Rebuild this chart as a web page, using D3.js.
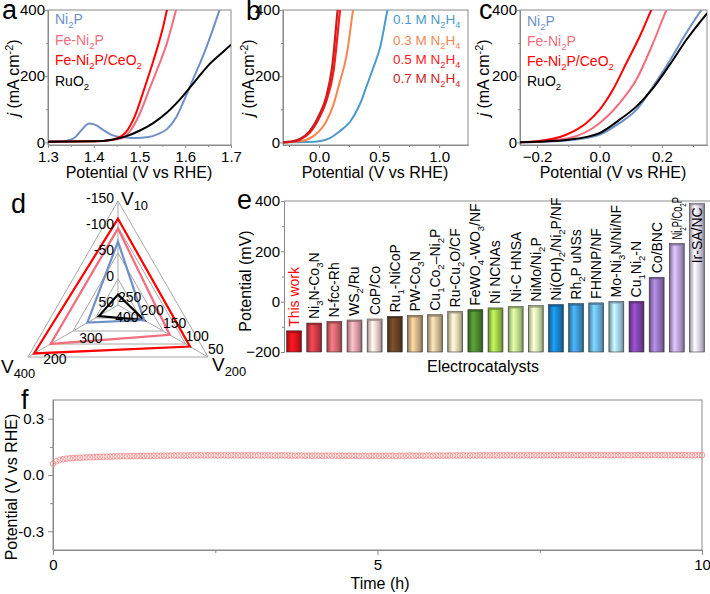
<!DOCTYPE html>
<html><head><meta charset="utf-8">
<script src="https://cdn.jsdelivr.net/npm/d3@7"></script>
<style>body{margin:0;background:#fff}svg{display:block;font-family:"Liberation Sans",Arial,sans-serif}</style>
</head><body><svg id="chart" width="710" height="594"></svg>
<script>
// ---------------- DATA ----------------
// Panel a (OER-like LSV, potential V vs RHE, j mA cm-2)
const aNi2P   = [[1.30,3],[1.34,5],[1.35,8],[1.36,16],[1.375,40],[1.39,57],[1.405,52],[1.42,38],[1.44,22],[1.46,16],[1.49,13],[1.52,16],[1.54,25],[1.56,40],[1.58,75],[1.60,135],[1.62,200],[1.64,265],[1.66,340],[1.675,400],[1.69,460]];
const aFeNi2P = [[1.30,2],[1.40,3],[1.44,7],[1.46,12],[1.47,20],[1.48,35],[1.50,85],[1.52,155],[1.54,225],[1.56,300],[1.58,400],[1.59,450]];
const aFeNiCe = [[1.30,2],[1.40,3],[1.43,6],[1.45,12],[1.47,30],[1.49,80],[1.51,160],[1.53,245],[1.55,340],[1.56,400],[1.57,460]];
const aRuO2   = [[1.30,2],[1.40,3],[1.44,8],[1.47,18],[1.50,35],[1.53,58],[1.56,90],[1.59,132],[1.62,182],[1.65,232],[1.68,270],[1.70,295]];
// Panel b (HzOR, different N2H4 concentrations)
const b01 = [[-0.30,0],[-0.10,1],[0.00,3],[0.09,13],[0.17,33],[0.26,63],[0.31,93],[0.35,124],[0.39,164],[0.45,224],[0.51,289],[0.57,400],[0.59,430]];
const b03 = [[-0.30,0],[-0.16,3],[-0.05,18],[0.00,33],[0.06,63],[0.12,114],[0.17,179],[0.23,264],[0.283,400],[0.30,440]];
const b05 = [[-0.30,0],[-0.24,1],[-0.16,8],[-0.08,28],[0.00,73],[0.06,124],[0.12,214],[0.175,400],[0.19,450]];
const b07 = [[-0.30,0],[-0.24,2],[-0.16,10],[-0.08,33],[0.00,82],[0.06,138],[0.11,230],[0.155,400],[0.17,450]];
// Panel c (HzOR comparison)
const cNi2P   = [[-0.255,0],[-0.2,1],[-0.1,6],[0.0,23],[0.064,58],[0.118,98],[0.172,169],[0.225,246],[0.279,331],[0.327,400],[0.35,430]];
const cFeNi2P = [[-0.255,0],[-0.2,2],[-0.097,13],[0.0,58],[0.064,118],[0.118,189],[0.172,300],[0.215,400],[0.23,430]];
const cFeNiCe = [[-0.255,0],[-0.2,3],[-0.107,23],[-0.043,58],[0.0,98],[0.043,159],[0.086,239],[0.129,320],[0.166,400],[0.18,430]];
const cRuO2   = [[-0.255,0],[-0.2,2],[-0.1,8],[0.0,28],[0.064,68],[0.118,108],[0.172,164],[0.225,234],[0.279,310],[0.345,390]];
const legendABC = ["Ni_2P","Fe-Ni_2P","Fe-Ni_2P/CeO_2","RuO_2"];
const legendB = ["0.1 M N_2H_4","0.3 M N_2H_4","0.5 M N_2H_4","0.7 M N_2H_4"];
// Panel d (radar: V10, V200, V400 in mV)
const dAxisNames = ["V_{10}","V_{200}","V_{400}"];
const dTicksV10 = [-150,-100,-50,0,50];
const dTicksV200 = [250,200,150,100,50];
const dTicksV400 = [400,300,200];
const dFeNiCe = [-116,90,217];
const dFeNi2P = [-97,135,263];
const dNi2P   = [-72,192,365];
const dRuO2   = [30,192,397];
// Panel e (comparison bar chart, potential in mV)
const eCats = ["This work","Ni_3N-Co_3N","N-fcc-Rh","WS_2/Ru","CoP/Co","Ru_1-NiCoP","PW-Co_3N","Cu_1Co_2\u2013Ni_2P","Ru-Cu_2O/CF","FeWO_4-WO_3/NF","Ni NCNAs","Ni-C HNSA","NiMo/Ni_2P","Ni(OH)_2/Ni_2P/NF","Rh_2P uNSs","FHNNP/NF","Mo-Ni_3N/Ni/NF","Cu_1Ni_2-N","Co/BNC","Ni_2P/Co_2P","Ir-SA/NC"];
const eVals = [-116,-85,-79,-73,-69,-59,-55,-52,-39,-32,-25,-19,-16,-12,-8,-5,1,1,97,231,391];
const eColors = ["#e3131b","#d23c48","#d96870","#e3a2ae","#eed3cf","#6a4526","#d9b889","#d6c49c","#e5dbb9","#4f8b2f","#a2d24c","#c2e18e","#d8e9b3","#1a86d1","#3f9bd7","#6db7e6","#a8d5ec","#8445b1","#9b79c5","#bda6dc","#ded6ea"];
const eTicks = [-200,0,200,400];
// Panel f (chronopotentiometry, V vs RHE over 10 h)
const fVals = [0.061,0.074,0.080,0.084,0.087,0.089,0.090,0.091,0.092,0.093,
0.094,0.095,0.095,0.096,0.097,0.097,0.098,0.098,0.099,0.099,
0.100,0.100,0.100,0.101,0.101,0.101,0.102,0.102,0.102,0.102,
0.103,0.103,0.103,0.103,0.103,0.104,0.104,0.104,0.104,0.104,
0.104,0.105,0.104,0.105,0.105,0.104,0.105,0.105,0.105,0.104,
0.105,0.105,0.104,0.105,0.105,0.105,0.104,0.105,0.105,0.104,
0.104,0.105,0.104,0.104,0.105,0.104,0.104,0.104,0.105,0.104,
0.104,0.104,0.103,0.104,0.104,0.103,0.104,0.103,0.104,0.103,
0.103,0.103,0.104,0.103,0.103,0.103,0.103,0.102,0.103,0.103,
0.103,0.102,0.103,0.103,0.102,0.103,0.103,0.102,0.103,0.103,
0.103,0.103,0.102,0.103,0.103,0.103,0.104,0.103,0.103,0.104,
0.103,0.104,0.104,0.103,0.104,0.104,0.104,0.103,0.104,0.104,
0.104,0.104,0.105,0.104,0.104,0.105,0.104,0.105,0.105,0.104,
0.105,0.105,0.104,0.105,0.105,0.105,0.105,0.104,0.105,0.105,
0.105,0.106,0.105,0.105,0.105,0.106,0.105,0.105,0.106,0.105,
0.105,0.106,0.106,0.105,0.106,0.105,0.106,0.106,0.105,0.106,
0.106,0.105,0.106,0.106,0.106,0.105,0.106,0.106,0.106,0.105,
0.106,0.106,0.105,0.106,0.106,0.106,0.106,0.105,0.106,0.106,
0.106,0.106,0.106,0.105,0.106,0.106,0.106,0.106,0.106,0.105,
0.106,0.106,0.106,0.106];
const fTimeMax = 10;

// ---------------- HELPERS ----------------
const svg = d3.select('#chart');
const AX = '#8a8a8a';
const defs = svg.append('defs');

function rich(t, str, fs) {
  const segs = []; let buf = '';
  for (let i = 0; i < str.length; i++) {
    const ch = str[i];
    if (ch === '_' || ch === '^') {
      if (buf) { segs.push({t: buf, m: 'n'}); buf = ''; }
      const m = ch === '_' ? 'sub' : 'sup';
      if (str[i+1] === '{') { const j = str.indexOf('}', i); segs.push({t: str.slice(i+2, j), m}); i = j; }
      else { segs.push({t: str[i+1], m}); i++; }
    } else if (ch === '|') {
      if (buf) { segs.push({t: buf, m: 'n'}); buf = ''; }
      const j = str.indexOf('|', i+1); segs.push({t: str.slice(i+1, j), m: 'i'}); i = j;
    } else buf += ch;
  }
  if (buf) segs.push({t: buf, m: 'n'});
  let shift = 0;
  segs.forEach(s => {
    const target = s.m === 'sub' ? fs*0.28 : s.m === 'sup' ? -fs*0.4 : 0;
    const small = s.m === 'sub' || s.m === 'sup';
    const ts = t.append('tspan').text(s.t).attr('font-size', small ? fs*0.68 : fs);
    if (target !== shift) ts.attr('dy', target - shift);
    if (s.m === 'i') ts.attr('font-style', 'italic');
    shift = target;
  });
  return t;
}
function styleAxis(g, fs) {
  g.select('.domain').attr('stroke', AX);
  g.selectAll('.tick line').attr('stroke', AX);
  g.selectAll('.tick text').attr('font-size', fs).attr('fill', '#000').attr('font-family', '"Liberation Sans", Arial, sans-serif');
}
function letter(ch, x, y) {
  svg.append('text').attr('x', x).attr('y', y).attr('font-size', 27).attr('fill', '#000').text(ch);
}

// ---------------- LSV PANELS (a,b,c) ----------------
function lsvPanel(id, xr, xd, xt, xminor, fmt, series, legend, legX, legYs, legFs, yTitleX, xTitleX) {
  const x = d3.scaleLinear().domain(xd).range(xr);
  const y = d3.scaleLinear().domain([-8, 400]).range([145, 10]);
  const g = svg.append('g');
  defs.append('clipPath').attr('id', 'clip' + id).append('rect')
    .attr('x', xr[0]).attr('y', 10).attr('width', xr[1]-xr[0]).attr('height', 135);
  g.append('rect').attr('x', xr[0]).attr('y', 10).attr('width', xr[1]-xr[0]).attr('height', 135)
    .attr('fill', 'none').attr('stroke', AX).attr('stroke-width', 1);
  const ya = g.append('g').attr('transform', `translate(${xr[0]},0)`)
    .call(d3.axisLeft(y).tickValues([0,200,400]).tickSize(3).tickPadding(0).tickSizeOuter(0));
  styleAxis(ya, 15);
  const ym = g.append('g').attr('transform', `translate(${xr[0]},0)`)
    .call(d3.axisLeft(y).tickValues([100,300]).tickSize(2).tickFormat('').tickSizeOuter(0));
  styleAxis(ym, 15);
  const xa = g.append('g').attr('transform', 'translate(0,145)')
    .call(d3.axisBottom(x).tickValues(xt).tickFormat(fmt).tickSize(3).tickPadding(3).tickSizeOuter(0));
  styleAxis(xa, 15);
  const xm = g.append('g').attr('transform', 'translate(0,145)')
    .call(d3.axisBottom(x).tickValues(xminor).tickFormat('').tickSize(2).tickSizeOuter(0));
  styleAxis(xm, 15);
  const line = d3.line().x(d => x(d[0])).y(d => y(d[1])).curve(d3.curveMonotoneX);
  const cg = g.append('g').attr('clip-path', `url(#clip${id})`);
  series.forEach(s => {
    cg.append('path').attr('d', line(s.data)).attr('fill', 'none')
      .attr('stroke', s.color).attr('stroke-width', s.w || 2);
  });
  legend.forEach((l, i) => {
    rich(g.append('text').attr('x', legX).attr('y', legYs[i]).attr('fill', series[i].lc || series[i].color), l, legFs);
  });
  rich(g.append('text').attr('transform', `translate(${yTitleX},78) rotate(-90)`).attr('text-anchor', 'middle'), '|j| (mA cm^{-2})', 16);
  g.append('text').attr('x', xTitleX).attr('y', 178).attr('text-anchor', 'middle').attr('font-size', 16).text('Potential (V vs RHE)');
}

const cNi = '#6f8fc6', cFe = '#f26d7d', cCe = '#ff0000', cRu = '#000000';
lsvPanel('a', [48, 231], [1.3, 1.7], [1.3,1.4,1.5,1.6,1.7], [1.35,1.45,1.55,1.65], d3.format('.1f'),
  [{data: aNi2P, color: cNi}, {data: aFeNi2P, color: cFe}, {data: aFeNiCe, color: cCe}, {data: aRuO2, color: cRu}],
  legendABC, 55, [24, 45, 65, 86], 14, 19, 139);
lsvPanel('b', [283, 468], [-0.30, 1.24], [0, 0.5, 1.0], [-0.25, 0.25, 0.75], d3.format('.1f'),
  [{data: b01, color: '#4a9bc9'}, {data: b03, color: '#f8854f'}, {data: b05, color: '#ff1a1a', w: 2.2}, {data: b07, color: '#c81e1e', w: 2.2}],
  legendB, 393, [24, 45, 64, 83], 13.5, 254, 375);
lsvPanel('c', [520, 707], [-0.255, 0.345], [-0.2, 0, 0.2], [-0.1, 0.1, 0.3], d3.format('.1f'),
  [{data: cNi2P, color: cNi}, {data: cFeNi2P, color: cFe}, {data: cFeNiCe, color: cCe}, {data: cRuO2, color: cRu}],
  legendABC, 527, [26, 46, 66, 86], 14, 489, 613);
letter('a', 2, 19); letter('b', 246, 20); letter('c', 479, 19);

// ---------------- RADAR (d) ----------------
(function() {
  const cx = 118, cy = 305, R = 104;
  const g = svg.append('g');
  const axes = [
    {ang: -90, s: d3.scaleLinear().domain([50, -150]).range([0, R]), ticks: dTicksV10},
    {ang: 30,  s: d3.scaleLinear().domain([250, 50]).range([0, R]), ticks: dTicksV200},
    {ang: 150, s: d3.scaleLinear().domain([450, 200]).range([0, R]), ticks: dTicksV400}
  ];
  const pt = (a, r) => [cx + r*Math.cos(a.ang*Math.PI/180), cy + r*Math.sin(a.ang*Math.PI/180)];
  [0.25, 0.5, 0.75, 1].forEach(f => {
    g.append('polygon').attr('points', axes.map(a => pt(a, f*R).join(',')).join(' '))
      .attr('fill', 'none').attr('stroke', '#a8a8a8').attr('stroke-width', 1);
  });
  axes.forEach(a => {
    const p = pt(a, R);
    g.append('line').attr('x1', cx).attr('y1', cy).attr('x2', p[0]).attr('y2', p[1]).attr('stroke', '#a8a8a8');
  });
  const series = [
    {v: dRuO2, c: '#000'}, {v: dNi2P, c: cNi}, {v: dFeNi2P, c: cFe}, {v: dFeNiCe, c: cCe}
  ];
  series.forEach(s => {
    g.append('polygon').attr('points', axes.map((a, i) => pt(a, a.s(s.v[i])).join(',')).join(' '))
      .attr('fill', 'none').attr('stroke', s.c).attr('stroke-width', 2.2).attr('stroke-linejoin', 'miter');
  });
  axes[0].ticks.forEach(t => {
    const p = pt(axes[0], axes[0].s(t));
    g.append('text').attr('x', 114).attr('y', p[1] + 2).attr('text-anchor', 'end').attr('font-size', 14).text(t);
  });
  axes[1].ticks.forEach(t => {
    const p = pt(axes[1], axes[1].s(t));
    g.append('text').attr('x', p[0]).attr('y', p[1] - 3).attr('font-size', 14).text(t);
  });
  axes[2].ticks.forEach(t => {
    const p = pt(axes[2], axes[2].s(t));
    g.append('text').attr('x', p[0] + 27).attr('y', p[1] + 7).attr('text-anchor', 'middle').attr('font-size', 14).text(t);
  });
  rich(g.append('text').attr('x', 121).attr('y', 205), dAxisNames[0], 19);
  rich(g.append('text').attr('x', 212).attr('y', 371), dAxisNames[1], 19);
  rich(g.append('text').attr('x', 1).attr('y', 373), dAxisNames[2], 19);
  letter('d', 11, 213);
})();

// ---------------- BARS (e) ----------------
(function() {
  const x0 = 284, x1 = 707, yTop = 201, yBot = 352;
  const x = d3.scaleBand().domain(eCats).range([x0, x1]).paddingInner(0.26).paddingOuter(0.13);
  const y = d3.scaleLinear().domain([-200, 400]).range([yBot, yTop]);
  const g = svg.append('g');
  g.append('line').attr('x1', x0).attr('x2', 710).attr('y1', yTop).attr('y2', yTop).attr('stroke', AX);
  const ya = g.append('g').attr('transform', `translate(${x0},0)`)
    .call(d3.axisLeft(y).tickValues(eTicks).tickSize(3).tickPadding(1).tickSizeOuter(0));
  styleAxis(ya, 15);
  const ym = g.append('g').attr('transform', `translate(${x0},0)`)
    .call(d3.axisLeft(y).tickValues([-100, 100, 300]).tickSize(2).tickFormat('').tickSizeOuter(0));
  styleAxis(ym, 15);
  eCats.forEach((c, i) => {
    const base = d3.color(eColors[i]);
    const gr = defs.append('linearGradient').attr('id', 'eg' + i).attr('x1', 0).attr('x2', 1).attr('y1', 0).attr('y2', 0);
    [[0, base.darker(1.4)], [0.12, base.darker(0.5)], [0.35, base.brighter(0.5)], [0.6, base], [0.85, base.darker(0.6)], [1, base.darker(1.7)]]
      .forEach(s => gr.append('stop').attr('offset', s[0]).attr('stop-color', s[1].formatHex()));
  });
  g.selectAll('rect.bar').data(eCats).enter().append('rect').attr('class', 'bar')
    .attr('x', d => x(d)).attr('width', x.bandwidth())
    .attr('y', (d, i) => y(eVals[i])).attr('height', (d, i) => y(-200) - y(eVals[i]))
    .attr('fill', (d, i) => `url(#eg${i})`).attr('stroke', '#333').attr('stroke-width', 0.6);
  g.selectAll('rect.cap').data(eCats).enter().append('rect')
    .attr('x', d => x(d)).attr('width', x.bandwidth())
    .attr('y', (d, i) => y(eVals[i])).attr('height', 2)
    .attr('fill', (d, i) => d3.color(eColors[i]).darker(1.2)).attr('opacity', 0.8);
  const fs = 14;
  eCats.forEach((c, i) => {
    const cx = x(c) + x.bandwidth()/2;
    const top = y(eVals[i]);
    const t = g.append('text').attr('y', fs*0.35).attr('fill', i === 0 ? '#ff0000' : '#000');
    rich(t, c, fs);
    const len = t.node().getComputedTextLength();
    let start = top - 4;
    const avail = start - (yTop - 4);
    if (len > avail) {
      if (avail >= 30) {
        t.attr('textLength', avail).attr('lengthAdjust', 'spacingAndGlyphs');
      } else {
        start = top + 4 + len;
      }
    }
    t.attr('transform', `translate(${cx},${start}) rotate(-90)`);
  });
  g.append('text').attr('transform', 'translate(251,281) rotate(-90)').attr('text-anchor', 'middle').attr('font-size', 16).text('Potential (mV)');
  g.append('text').attr('x', 483).attr('y', 372).attr('text-anchor', 'middle').attr('font-size', 16).text('Electrocatalysts');
  letter('e', 237, 209);
})();

// ---------------- STABILITY (f) ----------------
(function() {
  const x0 = 53, x1 = 702, y0 = 400, y1 = 550;
  const x = d3.scaleLinear().domain([0, fTimeMax]).range([x0, x1]);
  const y = d3.scaleLinear().domain([-0.4, 0.4]).range([y1, y0]);
  const idx = d3.scaleLinear().domain([0, fVals.length - 1]).range([0, fTimeMax]);
  const g = svg.append('g');
  g.append('rect').attr('x', x0).attr('y', y0).attr('width', x1 - x0).attr('height', y1 - y0)
    .attr('fill', 'none').attr('stroke', AX);
  const ya = g.append('g').attr('transform', `translate(${x0},0)`)
    .call(d3.axisLeft(y).tickValues([-0.3, 0, 0.3]).tickFormat(d3.format('.1f')).tickSize(5).tickPadding(4).tickSizeOuter(0));
  styleAxis(ya, 15);
  ya.selectAll('.tick text').text(d => d3.format('.1f')(d).replace('\u2212', '-'));
  const ym = g.append('g').attr('transform', `translate(${x0},0)`)
    .call(d3.axisLeft(y).tickValues([-0.15, 0.15]).tickSize(3).tickFormat('').tickSizeOuter(0));
  styleAxis(ym, 15);
  const xa = g.append('g').attr('transform', `translate(0,${y1})`)
    .call(d3.axisBottom(x).tickValues([0, 5, 10]).tickSize(5).tickPadding(4).tickSizeOuter(0));
  styleAxis(xa, 15);
  const xm = g.append('g').attr('transform', `translate(0,${y1})`)
    .call(d3.axisBottom(x).tickValues([2.5, 7.5]).tickSize(3).tickFormat('').tickSizeOuter(0));
  styleAxis(xm, 15);
  g.selectAll('circle').data(fVals).enter().append('circle')
    .attr('cx', (d, i) => x(idx(i))).attr('cy', d => y(d)).attr('r', 2.8)
    .attr('fill', 'none').attr('stroke', '#f27e7e').attr('stroke-width', 0.8);
  g.append('text').attr('transform', 'translate(17,487) rotate(-90)').attr('text-anchor', 'middle').attr('font-size', 16).text('Potential (V vs RHE)');
  g.append('text').attr('x', 380).attr('y', 589).attr('text-anchor', 'middle').attr('font-size', 16).text('Time (h)');
  letter('f', 21, 409);
})();
</script></body></html>
